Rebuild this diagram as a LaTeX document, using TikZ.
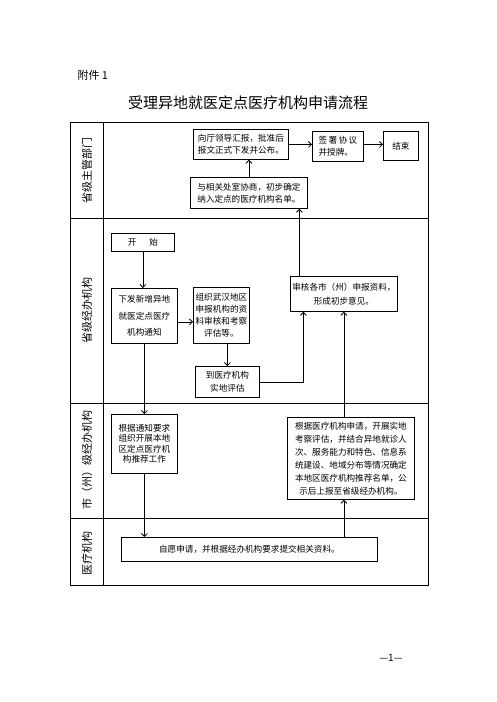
\documentclass[tikz,border=0pt]{standalone}
\usepackage{fontspec}
\setmainfont{Noto Sans CJK SC}
\usetikzlibrary{positioning,arrows.meta,calc}

\begin{document}
\begin{tikzpicture}[
  x=1pt, y=-1pt,
  stepbox/.style={draw, line width=0.8pt, anchor=north west, align=center,
                  font=\fontsize{8.6}{12}\selectfont, inner sep=1pt},
  lane/.style={rotate=90, font=\fontsize{11}{13}\selectfont},
  flow/.style={->, line width=0.8pt},
  >={Straight Barb[length=3pt,width=6pt]}
]
  \useasboundingbox (0,0) rectangle (496,702);

  % Heading
  \node[anchor=west, font=\fontsize{11}{13}\selectfont] (annex) at (74,75) {附件 1};
  \node[font=\fontsize{15}{18}\selectfont] (title) at (248,103)
    {受理异地就医定点医疗机构申请流程};

  % Swimlane frame
  \draw[line width=0.8pt] (70,122) rectangle (428,585);
  \draw[line width=0.8pt] (103,122) -- (103,585);
  \draw[line width=0.8pt] (70,218) -- (428,218);
  \draw[line width=0.8pt] (70,403) -- (428,403);
  \draw[line width=0.8pt] (70,518) -- (428,518);

  % Lane labels
  \node[lane] (laneA) at (87,170) {省级主管部门};
  \node[lane] (laneB) at (87,310) {省级经办机构};
  \node[lane] (laneC) at (87,460) {市（州）级经办机构};
  \node[lane] (laneD) at (87,553) {医疗机构};

  % Provincial department
  \node[stepbox, minimum width=95pt, minimum height=30pt] (report) at (193,129)
    {向厅领导汇报，批准后\\报文正式下发并公布。};
  \node[stepbox, minimum width=51pt, minimum height=30pt, align=left] (sign) at (312,131)
    {签\,署\,协\,议\\并授牌。};
  \node[stepbox, minimum width=35pt, minimum height=29pt] (end) at (383,131) {结束};
  \node[stepbox, minimum width=117pt, minimum height=31pt] (consult) at (190,177)
    {与相关处室协商，初步确定\\纳入定点的医疗机构名单。};

  % Provincial agency
  \node[stepbox, minimum width=63pt, minimum height=18pt] (start) at (111,233)
    {开\hspace{13pt}始};
  \node[stepbox, minimum width=66pt, minimum height=55pt,
        font=\fontsize{8.6}{16.5}\selectfont] (notice) at (111,288)
    {下发新增异地\\就医定点医疗\\机构通知};
  \node[stepbox, minimum width=56pt, minimum height=56pt] (organize) at (193,287)
    {组织武汉地区\\申报机构的资\\料审核和考察\\评估等。};
  \node[stepbox, minimum width=64pt, minimum height=31pt,
        font=\fontsize{8.6}{13}\selectfont] (visit) at (195,366)
    {到医疗机构\\实地评估};
  \node[stepbox, minimum width=107pt, minimum height=35pt,
        font=\fontsize{8.6}{14}\selectfont] (review) at (290,276)
    {审核各市（州）申报资料，\\形成初步意见。};

  % City agency
  \node[stepbox, minimum width=66pt, minimum height=59pt,
        font=\fontsize{8.6}{10.5}\selectfont] (citynotice) at (111,414)
    {根据通知要求\\组织开展本地\\区定点医疗机\\构推荐工作};
  \node[stepbox, minimum width=127pt, minimum height=82pt,
        font=\fontsize{8.6}{13}\selectfont] (cityeval) at (287,417)
    {根据医疗机构申请，开展实地\\考察评估，并结合异地就诊人\\次、服务能力和特色、信息系\\统建设、地域分布等情况确定\\本地区医疗机构推荐名单，公\\示后上报至省级经办机构。};

  % Medical institutions
  \node[stepbox, minimum width=256pt, minimum height=24pt] (apply) at (121,537)
    {自愿申请，并根据经办机构要求提交相关资料。};

  % Connectors
  \draw[flow] (start.south) -- (start.south |- notice.north);
  \draw[flow] ([yshift=-6pt]notice.east) -- ([yshift=-6pt]notice.east -| organize.west);
  \draw[flow] (visit.north |- organize.south) -- (visit.north);
  \draw[flow] (visit.east) -| ([xshift=-40.5pt]review.south);
  \draw[flow] (notice.south) -- (notice.south |- citynotice.north);
  \draw[flow] (citynotice.south) -- (citynotice.south |- apply.north);
  \draw[flow] (apply.north -| review.south) -- (review.south |- cityeval.south);
  \draw[flow] (review.south |- cityeval.north) -- (review.south);
  \draw[flow] ([xshift=-44.5pt]review.north) -- ([xshift=-44.5pt]review.north |- consult.south);
  \draw[flow] (consult.north) -- (consult.north |- report.south);
  \draw[flow] (report.east) -- (report.east -| sign.west);
  \draw[flow] ([yshift=2pt]sign.east) -- ([yshift=2pt]sign.east -| end.west);

  % Page number
  \node[font=\fontsize{10}{12}\selectfont] (page) at (391,658) {—1—};
\end{tikzpicture}
\end{document}
